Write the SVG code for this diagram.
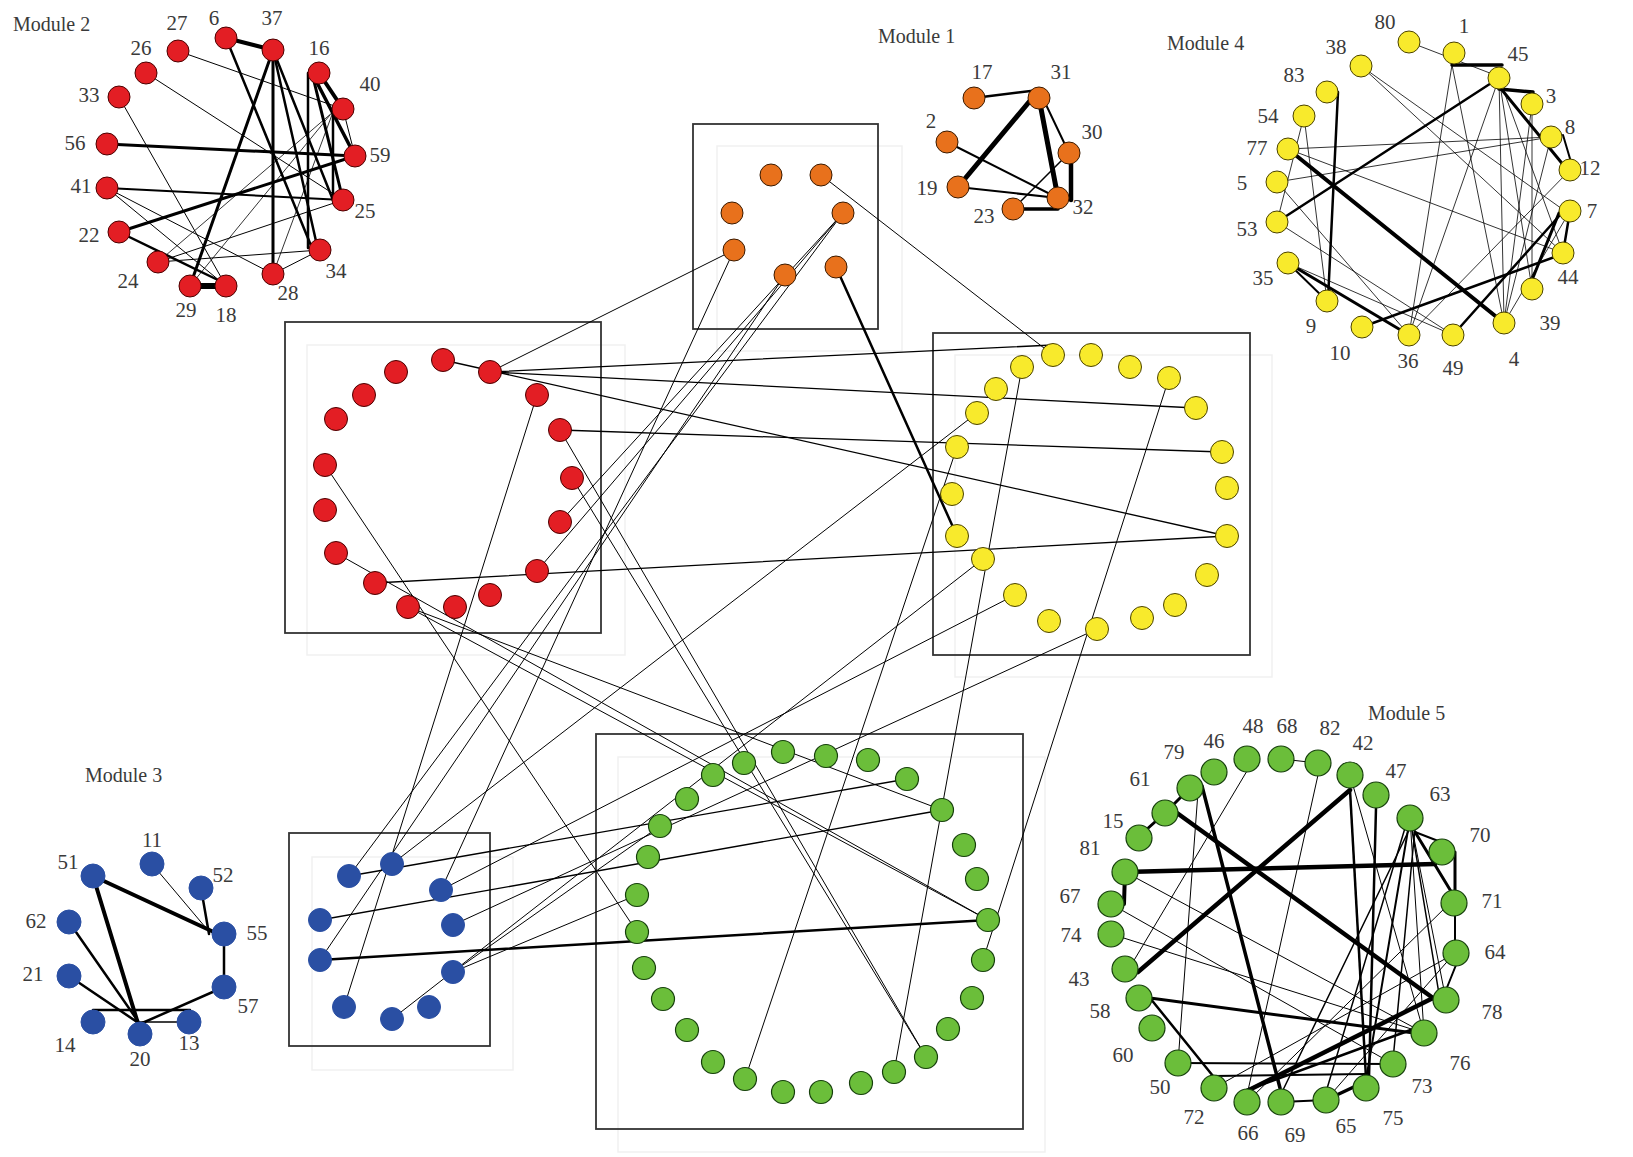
<svg xmlns="http://www.w3.org/2000/svg" width="1633" height="1157" viewBox="0 0 1633 1157">
<style>
text{font-family:"Liberation Serif","Times New Roman",serif;font-size:21px;fill:#3a3a3a;text-anchor:middle}
text.m{text-anchor:start;font-size:20px}
.box{fill:none;stroke:#333;stroke-width:1.8}
.faint{fill:none;stroke:#f1f1f1;stroke-width:1.5}
line{stroke:#000;stroke-linecap:round}
.r{fill:#E31E24;stroke:#4a0000;stroke-width:1}
.o{fill:#E8711C;stroke:#3a1a00;stroke-width:1}
.y{fill:#F8EA2C;stroke:#4a4200;stroke-width:1}
.g{fill:#6BBE3A;stroke:#163f0c;stroke-width:1.2}
.b{fill:#2A4FA3;stroke:#2A4FA3;stroke-width:1}
</style>
<rect width="1633" height="1157" fill="#fff"/>
<g id="frames">
<rect class="faint" x="307" y="345" width="318" height="310"/>
<rect class="faint" x="717" y="146" width="185" height="205"/>
<rect class="faint" x="955" y="355" width="317" height="322"/>
<rect class="faint" x="618" y="757" width="427" height="395"/>
<rect class="faint" x="312" y="857" width="201" height="213"/>
<rect class="box" x="285" y="322" width="316" height="311"/>
<rect class="box" x="693" y="124" width="185" height="205"/>
<rect class="box" x="933" y="333" width="317" height="322"/>
<rect class="box" x="596" y="734" width="427" height="395"/>
<rect class="box" x="289" y="833" width="201" height="213"/>
</g>
<g id="connectors">
<!-- Module 2 -->
<line x1="226" y1="38" x2="273" y2="50" stroke-width="4"/>
<line x1="190" y1="286" x2="226" y2="286" stroke-width="6"/>
<line x1="319" y1="73" x2="343" y2="109" stroke-width="4"/>
<line x1="312" y1="73" x2="355" y2="156" stroke-width="3.5"/>
<line x1="312" y1="73" x2="343" y2="200" stroke-width="3"/>
<line x1="308" y1="73" x2="308" y2="248" stroke-width="2.5"/>
<line x1="333" y1="110" x2="333" y2="200" stroke-width="2.5"/>
<line x1="273" y1="50" x2="273" y2="274" stroke-width="3"/>
<line x1="273" y1="50" x2="190" y2="286" stroke-width="3"/>
<line x1="273" y1="50" x2="318" y2="250" stroke-width="2.5"/>
<line x1="273" y1="50" x2="333" y2="200" stroke-width="2.5"/>
<line x1="226" y1="38" x2="312" y2="248" stroke-width="2.5"/>
<line x1="107" y1="144" x2="355" y2="156" stroke-width="3"/>
<line x1="119" y1="232" x2="355" y2="156" stroke-width="3"/>
<line x1="119" y1="232" x2="222" y2="282" stroke-width="2.5"/>
<line x1="107" y1="188" x2="343" y2="200" stroke-width="2"/>
<line x1="107" y1="188" x2="273" y2="274" stroke-width="1"/>
<line x1="107" y1="188" x2="226" y2="286" stroke-width="1"/>
<line x1="178" y1="51" x2="343" y2="109" stroke-width="1"/>
<line x1="146" y1="73" x2="343" y2="200" stroke-width="1"/>
<line x1="119" y1="97" x2="226" y2="286" stroke-width="1"/>
<line x1="158" y1="262" x2="343" y2="200" stroke-width="1"/>
<line x1="158" y1="262" x2="333" y2="112" stroke-width="0.8"/>
<line x1="158" y1="262" x2="320" y2="250" stroke-width="1"/>
<line x1="273" y1="274" x2="320" y2="250" stroke-width="1"/>
<line x1="343" y1="109" x2="355" y2="156" stroke-width="1"/>
<line x1="273" y1="274" x2="333" y2="112" stroke-width="0.8"/>
<line x1="190" y1="286" x2="330" y2="115" stroke-width="0.8"/>
<!-- Module 1 -->
<line x1="974" y1="98" x2="1039" y2="90" stroke-width="2.5"/>
<line x1="1039" y1="90" x2="958" y2="187" stroke-width="5"/>
<line x1="1039" y1="98" x2="1058" y2="198" stroke-width="5"/>
<line x1="1039" y1="90" x2="1069" y2="153" stroke-width="2"/>
<line x1="1071" y1="153" x2="1071" y2="200" stroke-width="4.5"/>
<line x1="1069" y1="153" x2="1013" y2="209" stroke-width="1.5"/>
<line x1="947" y1="142" x2="1058" y2="198" stroke-width="2"/>
<line x1="958" y1="187" x2="1058" y2="198" stroke-width="2"/>
<line x1="1013" y1="209" x2="1058" y2="209" stroke-width="3.5"/>
<!-- Module 4 -->
<line x1="1409" y1="42" x2="1495" y2="75" stroke-width="0.8"/>
<line x1="1452" y1="65" x2="1502" y2="65" stroke-width="3.5"/>
<line x1="1499" y1="89" x2="1533" y2="92" stroke-width="3.5"/>
<line x1="1502" y1="90" x2="1565" y2="167" stroke-width="3"/>
<line x1="1499" y1="78" x2="1277" y2="222" stroke-width="2.5"/>
<line x1="1563" y1="135" x2="1571" y2="162" stroke-width="2"/>
<line x1="1570" y1="211" x2="1563" y2="253" stroke-width="2.5"/>
<line x1="1559" y1="213" x2="1532" y2="280" stroke-width="3"/>
<line x1="1338" y1="92" x2="1328" y2="300" stroke-width="2.5"/>
<line x1="1288" y1="149" x2="1504" y2="323" stroke-width="4"/>
<line x1="1288" y1="263" x2="1409" y2="335" stroke-width="3"/>
<line x1="1288" y1="263" x2="1327" y2="301" stroke-width="2"/>
<line x1="1362" y1="327" x2="1560" y2="255" stroke-width="2.5"/>
<line x1="1453" y1="335" x2="1560" y2="215" stroke-width="2.5"/>
<line x1="1361" y1="66" x2="1565" y2="211" stroke-width="0.8"/>
<line x1="1361" y1="66" x2="1563" y2="253" stroke-width="0.8"/>
<line x1="1288" y1="149" x2="1551" y2="137" stroke-width="0.8"/>
<line x1="1277" y1="182" x2="1551" y2="137" stroke-width="0.8"/>
<line x1="1304" y1="116" x2="1327" y2="301" stroke-width="0.8"/>
<line x1="1304" y1="116" x2="1277" y2="222" stroke-width="0.8"/>
<line x1="1452" y1="65" x2="1409" y2="335" stroke-width="0.8"/>
<line x1="1452" y1="65" x2="1504" y2="323" stroke-width="0.8"/>
<line x1="1499" y1="78" x2="1409" y2="335" stroke-width="0.8"/>
<line x1="1499" y1="78" x2="1504" y2="320" stroke-width="0.8"/>
<line x1="1499" y1="78" x2="1563" y2="253" stroke-width="0.8"/>
<line x1="1499" y1="78" x2="1532" y2="289" stroke-width="0.8"/>
<line x1="1532" y1="104" x2="1504" y2="323" stroke-width="0.8"/>
<line x1="1277" y1="222" x2="1453" y2="335" stroke-width="0.8"/>
<line x1="1288" y1="149" x2="1563" y2="253" stroke-width="0.8"/>
<line x1="1277" y1="182" x2="1409" y2="335" stroke-width="0.8"/>
<line x1="1288" y1="263" x2="1453" y2="335" stroke-width="0.8"/>
<line x1="1570" y1="170" x2="1409" y2="335" stroke-width="0.8"/>
<line x1="1551" y1="137" x2="1504" y2="323" stroke-width="0.8"/>
<line x1="1532" y1="104" x2="1532" y2="289" stroke-width="0.8"/>
<line x1="1570" y1="211" x2="1504" y2="323" stroke-width="0.8"/>
<!-- Module 3 -->
<line x1="93" y1="876" x2="218" y2="934" stroke-width="4"/>
<line x1="93" y1="876" x2="140" y2="1030" stroke-width="4"/>
<line x1="152" y1="864" x2="206" y2="928" stroke-width="1"/>
<line x1="201" y1="888" x2="209" y2="934" stroke-width="2.5"/>
<line x1="224" y1="934" x2="224" y2="987" stroke-width="2.5"/>
<line x1="224" y1="987" x2="140" y2="1024" stroke-width="2.5"/>
<line x1="69" y1="922" x2="140" y2="1024" stroke-width="2.5"/>
<line x1="69" y1="976" x2="140" y2="1024" stroke-width="2.5"/>
<line x1="93" y1="1010" x2="190" y2="1010" stroke-width="2.5"/>
<line x1="140" y1="1022" x2="182" y2="1022" stroke-width="1.5"/>
<!-- Module 5 -->
<line x1="1190" y1="788" x2="1165" y2="813" stroke-width="3"/>
<line x1="1165" y1="813" x2="1137" y2="838" stroke-width="3"/>
<line x1="1125" y1="872" x2="1124" y2="904" stroke-width="4"/>
<line x1="1125" y1="872" x2="1435" y2="864" stroke-width="4.5"/>
<line x1="1177" y1="813" x2="1433" y2="998" stroke-width="4.5"/>
<line x1="1202" y1="786" x2="1280" y2="1088" stroke-width="3.5"/>
<line x1="1350" y1="790" x2="1138" y2="972" stroke-width="4.5"/>
<line x1="1350" y1="790" x2="1366" y2="1078" stroke-width="2.5"/>
<line x1="1376" y1="808" x2="1369" y2="1078" stroke-width="2.5"/>
<line x1="1415" y1="832" x2="1446" y2="844" stroke-width="2"/>
<line x1="1415" y1="832" x2="1452" y2="893" stroke-width="3"/>
<line x1="1455" y1="852" x2="1455" y2="893" stroke-width="3"/>
<line x1="1455" y1="915" x2="1455" y2="943" stroke-width="2"/>
<line x1="1456" y1="965" x2="1446" y2="990" stroke-width="2"/>
<line x1="1433" y1="998" x2="1245" y2="1092" stroke-width="4.5"/>
<line x1="1150" y1="998" x2="1414" y2="1033" stroke-width="3"/>
<line x1="1150" y1="998" x2="1213" y2="1076" stroke-width="2.5"/>
<line x1="1178" y1="1063" x2="1393" y2="1064" stroke-width="2"/>
<line x1="1214" y1="1076" x2="1366" y2="1074" stroke-width="2"/>
<line x1="1281" y1="1102" x2="1326" y2="1100" stroke-width="2"/>
<line x1="1326" y1="1100" x2="1358" y2="1085" stroke-width="3.5"/>
<line x1="1410" y1="818" x2="1366" y2="1080" stroke-width="2"/>
<line x1="1405" y1="828" x2="1326" y2="1092" stroke-width="1.5"/>
<line x1="1415" y1="828" x2="1393" y2="1060" stroke-width="1.5"/>
<line x1="1410" y1="828" x2="1283" y2="1090" stroke-width="1.5"/>
<line x1="1247" y1="1090" x2="1416" y2="1028" stroke-width="2.5"/>
<line x1="1281" y1="759" x2="1318" y2="763" stroke-width="1"/>
<line x1="1318" y1="775" x2="1247" y2="1095" stroke-width="1"/>
<line x1="1125" y1="872" x2="1424" y2="1033" stroke-width="1"/>
<line x1="1111" y1="904" x2="1393" y2="1064" stroke-width="1"/>
<line x1="1111" y1="934" x2="1424" y2="1033" stroke-width="1"/>
<line x1="1350" y1="775" x2="1424" y2="1033" stroke-width="1"/>
<line x1="1198" y1="792" x2="1178" y2="1063" stroke-width="1"/>
<line x1="1247" y1="771" x2="1133" y2="962" stroke-width="1"/>
<line x1="1214" y1="1088" x2="1452" y2="955" stroke-width="1"/>
<line x1="1247" y1="1102" x2="1448" y2="905" stroke-width="1"/>
<line x1="1410" y1="818" x2="1446" y2="1000" stroke-width="1"/>
<line x1="1410" y1="818" x2="1424" y2="1033" stroke-width="1"/>
<line x1="1326" y1="1100" x2="1453" y2="955" stroke-width="1"/>
<line x1="1410" y1="818" x2="1440" y2="1000" stroke-width="1.5"/>
<!-- inter-module -->
<line x1="490" y1="372" x2="734" y2="250" stroke-width="1"/>
<line x1="490" y1="372" x2="1053" y2="345" stroke-width="1.3"/>
<line x1="490" y1="372" x2="1196" y2="408" stroke-width="1.3"/>
<line x1="443" y1="360" x2="1227" y2="536" stroke-width="1.3"/>
<line x1="560" y1="430" x2="1222" y2="452" stroke-width="1.3"/>
<line x1="375" y1="583" x2="1227" y2="536" stroke-width="1.3"/>
<line x1="325" y1="465" x2="637" y2="932" stroke-width="1"/>
<line x1="560" y1="430" x2="926" y2="1057" stroke-width="1"/>
<line x1="572" y1="478" x2="926" y2="1057" stroke-width="1"/>
<line x1="408" y1="607" x2="942" y2="810" stroke-width="1"/>
<line x1="408" y1="607" x2="988" y2="920" stroke-width="1"/>
<line x1="336" y1="553" x2="988" y2="920" stroke-width="1"/>
<line x1="537" y1="571" x2="843" y2="213" stroke-width="1"/>
<line x1="560" y1="522" x2="843" y2="213" stroke-width="1"/>
<line x1="537" y1="395" x2="344" y2="1007" stroke-width="1"/>
<line x1="785" y1="275" x2="320" y2="960" stroke-width="1"/>
<line x1="843" y1="213" x2="349" y2="876" stroke-width="1"/>
<line x1="821" y1="175" x2="1053" y2="355" stroke-width="1"/>
<line x1="836" y1="267" x2="957" y2="536" stroke-width="2.5"/>
<line x1="734" y1="250" x2="441" y2="890" stroke-width="1"/>
<line x1="977" y1="413" x2="392" y2="864" stroke-width="1"/>
<line x1="1022" y1="367" x2="894" y2="1072" stroke-width="1"/>
<line x1="957" y1="447" x2="745" y2="1079" stroke-width="1"/>
<line x1="1097" y1="629" x2="453" y2="925" stroke-width="1"/>
<line x1="1015" y1="595" x2="441" y2="890" stroke-width="1"/>
<line x1="320" y1="960" x2="988" y2="920" stroke-width="2.5"/>
<line x1="1169" y1="378" x2="983" y2="960" stroke-width="1"/>
<line x1="392" y1="1019" x2="983" y2="559" stroke-width="1"/>
<line x1="453" y1="972" x2="637" y2="895" stroke-width="1"/>
<line x1="320" y1="920" x2="942" y2="810" stroke-width="1.3"/>
<line x1="349" y1="876" x2="907" y2="779" stroke-width="1.3"/>
<line x1="453" y1="972" x2="660" y2="826" stroke-width="1"/>
</g>
<g id="nodes">
<g id="module2">
<circle class="r" cx="226" cy="38" r="11"/><circle class="r" cx="273" cy="50" r="11"/><circle class="r" cx="178" cy="51" r="11"/><circle class="r" cx="146" cy="73" r="11"/><circle class="r" cx="319" cy="73" r="11"/><circle class="r" cx="343" cy="109" r="11"/><circle class="r" cx="119" cy="97" r="11"/><circle class="r" cx="107" cy="144" r="11"/><circle class="r" cx="355" cy="156" r="11"/><circle class="r" cx="107" cy="188" r="11"/><circle class="r" cx="343" cy="200" r="11"/><circle class="r" cx="119" cy="232" r="11"/><circle class="r" cx="320" cy="250" r="11"/><circle class="r" cx="158" cy="262" r="11"/><circle class="r" cx="273" cy="274" r="11"/><circle class="r" cx="190" cy="286" r="11"/><circle class="r" cx="226" cy="286" r="11"/>
<text class="m" x="13" y="31">Module 2</text>
<text x="177" y="30">27</text><text x="214" y="25">6</text><text x="272" y="25">37</text><text x="141" y="55">26</text><text x="319" y="55">16</text><text x="370" y="91">40</text><text x="89" y="102">33</text><text x="75" y="150">56</text><text x="380" y="162">59</text><text x="81" y="193">41</text><text x="365" y="218">25</text><text x="89" y="242">22</text><text x="128" y="288">24</text><text x="336" y="278">34</text><text x="288" y="300">28</text><text x="186" y="317">29</text><text x="226" y="322">18</text>
</g>
<g id="module1">
<circle class="o" cx="974" cy="98" r="11"/><circle class="o" cx="1039" cy="98" r="11"/><circle class="o" cx="947" cy="142" r="11"/><circle class="o" cx="1069" cy="153" r="11"/><circle class="o" cx="958" cy="187" r="11"/><circle class="o" cx="1058" cy="198" r="11"/><circle class="o" cx="1013" cy="209" r="11"/>
<text class="m" x="878" y="43">Module 1</text>
<text x="982" y="79">17</text><text x="1061" y="79">31</text><text x="931" y="128">2</text><text x="1092" y="139">30</text><text x="927" y="195">19</text><text x="984" y="223">23</text><text x="1083" y="214">32</text>
</g>
<g id="module4">
<circle class="y" cx="1409" cy="42" r="11"/><circle class="y" cx="1454" cy="53" r="11"/><circle class="y" cx="1361" cy="66" r="11"/><circle class="y" cx="1499" cy="78" r="11"/><circle class="y" cx="1327" cy="92" r="11"/><circle class="y" cx="1532" cy="104" r="11"/><circle class="y" cx="1304" cy="116" r="11"/><circle class="y" cx="1551" cy="137" r="11"/><circle class="y" cx="1288" cy="149" r="11"/><circle class="y" cx="1570" cy="170" r="11"/><circle class="y" cx="1277" cy="182" r="11"/><circle class="y" cx="1570" cy="211" r="11"/><circle class="y" cx="1277" cy="222" r="11"/><circle class="y" cx="1563" cy="253" r="11"/><circle class="y" cx="1288" cy="263" r="11"/><circle class="y" cx="1532" cy="289" r="11"/><circle class="y" cx="1327" cy="301" r="11"/><circle class="y" cx="1504" cy="323" r="11"/><circle class="y" cx="1362" cy="327" r="11"/><circle class="y" cx="1409" cy="335" r="11"/><circle class="y" cx="1453" cy="335" r="11"/>
<text class="m" x="1167" y="50">Module 4</text>
<text x="1385" y="29">80</text><text x="1464" y="33">1</text><text x="1336" y="54">38</text><text x="1518" y="61">45</text><text x="1294" y="82">83</text><text x="1551" y="103">3</text><text x="1268" y="123">54</text><text x="1570" y="134">8</text><text x="1257" y="155">77</text><text x="1590" y="175">12</text><text x="1242" y="190">5</text><text x="1592" y="218">7</text><text x="1247" y="236">53</text><text x="1568" y="284">44</text><text x="1263" y="285">35</text><text x="1550" y="330">39</text><text x="1311" y="333">9</text><text x="1340" y="360">10</text><text x="1408" y="368">36</text><text x="1453" y="375">49</text><text x="1514" y="366">4</text>
</g>
<g id="module3">
<circle class="b" cx="152" cy="864" r="12"/><circle class="b" cx="93" cy="876" r="12"/><circle class="b" cx="201" cy="888" r="12"/><circle class="b" cx="69" cy="922" r="12"/><circle class="b" cx="224" cy="934" r="12"/><circle class="b" cx="69" cy="976" r="12"/><circle class="b" cx="224" cy="987" r="12"/><circle class="b" cx="93" cy="1022" r="12"/><circle class="b" cx="189" cy="1022" r="12"/><circle class="b" cx="140" cy="1034" r="12"/>
<text class="m" x="85" y="782">Module 3</text>
<text x="152" y="847">11</text><text x="68" y="869">51</text><text x="223" y="882">52</text><text x="36" y="928">62</text><text x="257" y="940">55</text><text x="33" y="981">21</text><text x="248" y="1013">57</text><text x="65" y="1052">14</text><text x="189" y="1050">13</text><text x="140" y="1066">20</text>
</g>
<g id="module5">
<circle class="g" cx="1247" cy="759" r="13"/><circle class="g" cx="1281" cy="759" r="13"/><circle class="g" cx="1318" cy="763" r="13"/><circle class="g" cx="1214" cy="772" r="13"/><circle class="g" cx="1350" cy="775" r="13"/><circle class="g" cx="1190" cy="788" r="13"/><circle class="g" cx="1376" cy="795" r="13"/><circle class="g" cx="1165" cy="813" r="13"/><circle class="g" cx="1410" cy="818" r="13"/><circle class="g" cx="1139" cy="838" r="13"/><circle class="g" cx="1442" cy="852" r="13"/><circle class="g" cx="1125" cy="872" r="13"/><circle class="g" cx="1454" cy="903" r="13"/><circle class="g" cx="1111" cy="904" r="13"/><circle class="g" cx="1111" cy="934" r="13"/><circle class="g" cx="1456" cy="953" r="13"/><circle class="g" cx="1125" cy="969" r="13"/><circle class="g" cx="1446" cy="1000" r="13"/><circle class="g" cx="1139" cy="998" r="13"/><circle class="g" cx="1152" cy="1028" r="13"/><circle class="g" cx="1424" cy="1033" r="13"/><circle class="g" cx="1178" cy="1063" r="13"/><circle class="g" cx="1393" cy="1064" r="13"/><circle class="g" cx="1214" cy="1088" r="13"/><circle class="g" cx="1366" cy="1088" r="13"/><circle class="g" cx="1247" cy="1102" r="13"/><circle class="g" cx="1281" cy="1102" r="13"/><circle class="g" cx="1326" cy="1100" r="13"/>
<text class="m" x="1368" y="720">Module 5</text>
<text x="1253" y="733">48</text><text x="1287" y="733">68</text><text x="1330" y="735">82</text><text x="1214" y="748">46</text><text x="1363" y="750">42</text><text x="1174" y="759">79</text><text x="1396" y="778">47</text><text x="1140" y="786">61</text><text x="1440" y="801">63</text><text x="1113" y="828">15</text><text x="1480" y="842">70</text><text x="1090" y="855">81</text><text x="1492" y="908">71</text><text x="1070" y="903">67</text><text x="1071" y="942">74</text><text x="1495" y="959">64</text><text x="1079" y="986">43</text><text x="1492" y="1019">78</text><text x="1100" y="1018">58</text><text x="1123" y="1062">60</text><text x="1460" y="1070">76</text><text x="1160" y="1094">50</text><text x="1422" y="1093">73</text><text x="1194" y="1124">72</text><text x="1393" y="1125">75</text><text x="1248" y="1140">66</text><text x="1295" y="1142">69</text><text x="1346" y="1133">65</text>
</g>
<g id="box-red">
<circle class="r" cx="443" cy="360" r="11.5"/><circle class="r" cx="490" cy="372" r="11.5"/><circle class="r" cx="396" cy="372" r="11.5"/><circle class="r" cx="537" cy="395" r="11.5"/><circle class="r" cx="364" cy="395" r="11.5"/><circle class="r" cx="336" cy="419" r="11.5"/><circle class="r" cx="560" cy="430" r="11.5"/><circle class="r" cx="325" cy="465" r="11.5"/><circle class="r" cx="572" cy="478" r="11.5"/><circle class="r" cx="325" cy="510" r="11.5"/><circle class="r" cx="560" cy="522" r="11.5"/><circle class="r" cx="336" cy="553" r="11.5"/><circle class="r" cx="537" cy="571" r="11.5"/><circle class="r" cx="375" cy="583" r="11.5"/><circle class="r" cx="490" cy="595" r="11.5"/><circle class="r" cx="408" cy="607" r="11.5"/><circle class="r" cx="455" cy="607" r="11.5"/>
</g>
<g id="box-orange">
<circle class="o" cx="771" cy="175" r="11"/><circle class="o" cx="821" cy="175" r="11"/><circle class="o" cx="732" cy="213" r="11"/><circle class="o" cx="843" cy="213" r="11"/><circle class="o" cx="734" cy="250" r="11"/><circle class="o" cx="785" cy="275" r="11"/><circle class="o" cx="836" cy="267" r="11"/>
</g>
<g id="box-yellow">
<circle class="y" cx="1053" cy="355" r="11.5"/><circle class="y" cx="1091" cy="355" r="11.5"/><circle class="y" cx="1022" cy="367" r="11.5"/><circle class="y" cx="1130" cy="367" r="11.5"/><circle class="y" cx="1169" cy="378" r="11.5"/><circle class="y" cx="996" cy="389" r="11.5"/><circle class="y" cx="977" cy="413" r="11.5"/><circle class="y" cx="1196" cy="408" r="11.5"/><circle class="y" cx="957" cy="447" r="11.5"/><circle class="y" cx="1222" cy="452" r="11.5"/><circle class="y" cx="952" cy="494" r="11.5"/><circle class="y" cx="1227" cy="488" r="11.5"/><circle class="y" cx="957" cy="536" r="11.5"/><circle class="y" cx="1227" cy="536" r="11.5"/><circle class="y" cx="983" cy="559" r="11.5"/><circle class="y" cx="1207" cy="575" r="11.5"/><circle class="y" cx="1015" cy="595" r="11.5"/><circle class="y" cx="1175" cy="605" r="11.5"/><circle class="y" cx="1049" cy="621" r="11.5"/><circle class="y" cx="1142" cy="618" r="11.5"/><circle class="y" cx="1097" cy="629" r="11.5"/>
</g>
<g id="box-green">
<circle class="g" cx="783" cy="752" r="11.5"/><circle class="g" cx="826" cy="756" r="11.5"/><circle class="g" cx="744" cy="763" r="11.5"/><circle class="g" cx="868" cy="760" r="11.5"/><circle class="g" cx="713" cy="775" r="11.5"/><circle class="g" cx="907" cy="779" r="11.5"/><circle class="g" cx="687" cy="799" r="11.5"/><circle class="g" cx="942" cy="810" r="11.5"/><circle class="g" cx="660" cy="826" r="11.5"/><circle class="g" cx="964" cy="845" r="11.5"/><circle class="g" cx="648" cy="857" r="11.5"/><circle class="g" cx="977" cy="879" r="11.5"/><circle class="g" cx="637" cy="895" r="11.5"/><circle class="g" cx="988" cy="920" r="11.5"/><circle class="g" cx="637" cy="932" r="11.5"/><circle class="g" cx="983" cy="960" r="11.5"/><circle class="g" cx="644" cy="968" r="11.5"/><circle class="g" cx="972" cy="998" r="11.5"/><circle class="g" cx="663" cy="999" r="11.5"/><circle class="g" cx="948" cy="1029" r="11.5"/><circle class="g" cx="687" cy="1030" r="11.5"/><circle class="g" cx="926" cy="1057" r="11.5"/><circle class="g" cx="713" cy="1062" r="11.5"/><circle class="g" cx="894" cy="1072" r="11.5"/><circle class="g" cx="745" cy="1079" r="11.5"/><circle class="g" cx="861" cy="1083" r="11.5"/><circle class="g" cx="783" cy="1092" r="11.5"/><circle class="g" cx="821" cy="1092" r="11.5"/>
</g>
<g id="box-blue">
<circle class="b" cx="392" cy="864" r="11.5"/><circle class="b" cx="349" cy="876" r="11.5"/><circle class="b" cx="441" cy="890" r="11.5"/><circle class="b" cx="320" cy="920" r="11.5"/><circle class="b" cx="453" cy="925" r="11.5"/><circle class="b" cx="320" cy="960" r="11.5"/><circle class="b" cx="453" cy="972" r="11.5"/><circle class="b" cx="344" cy="1007" r="11.5"/><circle class="b" cx="392" cy="1019" r="11.5"/><circle class="b" cx="429" cy="1007" r="11.5"/>
</g>
</g>
</svg>
